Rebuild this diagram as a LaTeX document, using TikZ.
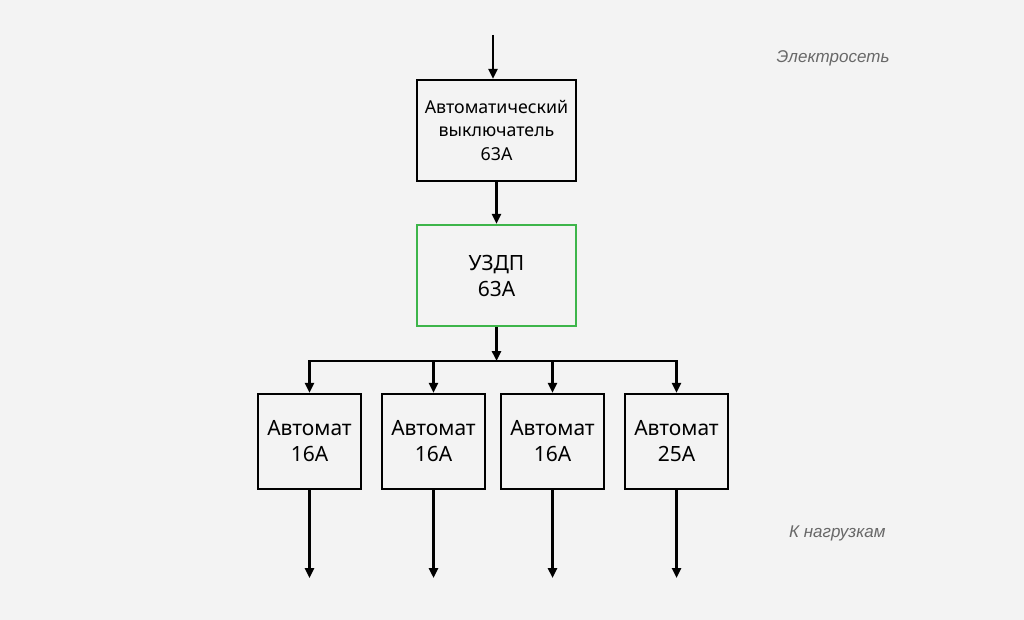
\documentclass[tikz,border=0pt]{standalone}
\usepackage{fontspec}
\setmainfont{Noto Sans}
\newfontfamily\labelfont{Liberation Sans}
\usetikzlibrary{arrows.meta}
\definecolor{bg}{HTML}{F3F3F3}
\definecolor{grn}{HTML}{3DB54A}
\definecolor{lbl}{HTML}{686868}
\begin{document}
\begin{tikzpicture}[x=1pt,y=-1pt,
  box/.style={draw=black,line width=2.4pt,fill=bg,inner sep=0pt,align=center},
  conn/.style={line width=2.4pt,-{Triangle[length=10pt,width=9pt]}},
  plain/.style={line width=2.4pt},
  side/.style={font=\labelfont\itshape\fontsize{17}{20}\selectfont,text=lbl}]
\fill[bg] (0,0) rectangle (1024,620);
\useasboundingbox (0,0) rectangle (1024,620);
\node[box,minimum width=159pt,minimum height=101pt,font=\fontsize{17.8}{23.5}\selectfont] (cb) at (496.5,130.5) {Автоматический\\выключатель\\63А};
\node[box,draw=grn,minimum width=159pt,minimum height=101pt,font=\fontsize{21}{26}\selectfont] (rcd) at (496.5,275.5) {УЗДП\\63А};
\coordinate (in) at (493,35);
\coordinate (bus) at (496.5,361);
\node[box,minimum width=103pt,minimum height=95pt,font=\fontsize{21}{26}\selectfont] (a) at (309.5,441.5) {Автомат\\16А};
\node[box,minimum width=103pt,minimum height=95pt,font=\fontsize{21}{26}\selectfont] (b) at (433.5,441.5) {Автомат\\16А};
\node[box,minimum width=103pt,minimum height=95pt,font=\fontsize{21}{26}\selectfont] (c) at (552.5,441.5) {Автомат\\16А};
\node[box,minimum width=103pt,minimum height=95pt,font=\fontsize{21}{26}\selectfont] (d) at (676.5,441.5) {Автомат\\25А};
\coordinate (topa) at (309.5,361);
\coordinate (topb) at (433.5,361);
\coordinate (topc) at (552.5,361);
\coordinate (topd) at (676.5,361);
\coordinate (outa) at (309.5,578);
\coordinate (outb) at (433.5,578);
\coordinate (outc) at (552.5,578);
\coordinate (outd) at (676.5,578);
\draw[conn] (in) -- (in |- cb.north);
\draw[conn] (cb.south) -- (rcd.north);
\draw[conn] (rcd.south) -- (bus);
\draw[plain,line cap=rect] (topa) -- (topd);
\foreach \n in {a,b,c,d}{
  \draw[conn] (top\n) -- (\n.north);
  \draw[conn] (\n.south) -- (out\n);
}
\node[side,anchor=east] (net) at (893,58) {Электросеть};
\node[side,anchor=east] (load) at (889,533) {К нагрузкам};
\end{tikzpicture}
\end{document}
